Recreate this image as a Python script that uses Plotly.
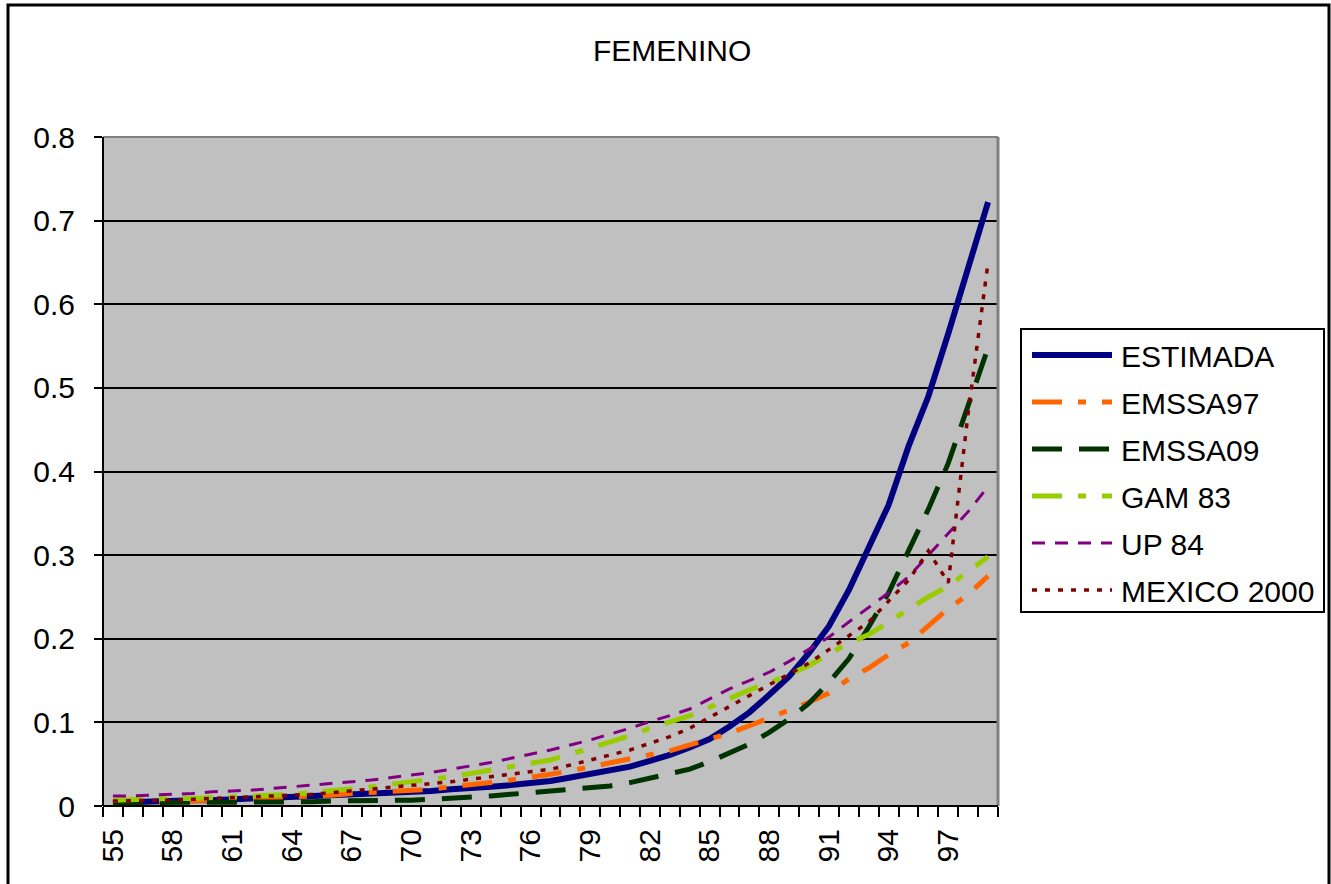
import plotly.graph_objects as go

# Ages (category axis) and mortality rates per table
ages = list(range(55, 100))

estimada = [0.004, 0.005, 0.005, 0.006, 0.007, 0.007, 0.008, 0.009, 0.009, 0.010,
            0.011, 0.012, 0.013, 0.014, 0.015, 0.017, 0.018, 0.020, 0.021, 0.023,
            0.025, 0.027, 0.030, 0.034, 0.038, 0.042, 0.047, 0.054, 0.061, 0.070,
            0.080, 0.095, 0.112, 0.133, 0.155, 0.183, 0.215, 0.258, 0.310, 0.360,
            0.430, 0.490, 0.565, 0.645, 0.722]
emssa97 = [0.004, 0.005, 0.005, 0.006, 0.006, 0.007, 0.007, 0.008, 0.009, 0.010,
           0.011, 0.013, 0.015, 0.016, 0.018, 0.019, 0.020, 0.023, 0.025, 0.028,
           0.031, 0.034, 0.038, 0.042, 0.047, 0.051, 0.056, 0.062, 0.066, 0.073,
           0.080, 0.087, 0.096, 0.105, 0.115, 0.124, 0.135, 0.152, 0.165, 0.181,
           0.195, 0.215, 0.236, 0.253, 0.275]
emssa09 = [0.004, 0.004, 0.004, 0.004, 0.005, 0.005, 0.005, 0.005, 0.005, 0.005,
           0.005, 0.006, 0.006, 0.006, 0.006, 0.007, 0.008, 0.009, 0.011, 0.012,
           0.014, 0.016, 0.017, 0.020, 0.022, 0.024, 0.028, 0.033, 0.038, 0.044,
           0.053, 0.063, 0.074, 0.088, 0.104, 0.123, 0.148, 0.176, 0.214, 0.255,
           0.305, 0.355, 0.410, 0.480, 0.548]
gam83 = [0.007, 0.008, 0.008, 0.009, 0.009, 0.010, 0.010, 0.011, 0.013, 0.014,
         0.016, 0.018, 0.021, 0.023, 0.026, 0.029, 0.031, 0.035, 0.039, 0.043,
         0.047, 0.051, 0.055, 0.062, 0.069, 0.076, 0.084, 0.093, 0.101, 0.108,
         0.118, 0.129, 0.139, 0.147, 0.157, 0.168, 0.182, 0.195, 0.205, 0.220,
         0.235, 0.250, 0.263, 0.280, 0.298]
up84 = [0.012, 0.012, 0.013, 0.014, 0.015, 0.017, 0.018, 0.019, 0.021, 0.023,
        0.025, 0.027, 0.029, 0.031, 0.034, 0.037, 0.040, 0.044, 0.048, 0.052,
        0.057, 0.062, 0.067, 0.073, 0.079, 0.086, 0.093, 0.101, 0.108, 0.116,
        0.128, 0.140, 0.150, 0.160, 0.173, 0.188, 0.202, 0.220, 0.237, 0.255,
        0.274, 0.300, 0.325, 0.352, 0.382]
mexico2000 = [0.006, 0.006, 0.007, 0.007, 0.008, 0.009, 0.009, 0.010, 0.011, 0.012,
              0.014, 0.016, 0.018, 0.020, 0.022, 0.025, 0.027, 0.029, 0.032, 0.035,
              0.037, 0.041, 0.044, 0.049, 0.055, 0.061, 0.067, 0.075, 0.083, 0.093,
              0.106, 0.119, 0.132, 0.144, 0.157, 0.171, 0.187, 0.204, 0.220, 0.245,
              0.270, 0.305, 0.267, 0.470, 0.650]

series_names = ["ESTIMADA", "EMSSA97", "EMSSA09", "GAM 83", "UP 84", "MEXICO 2000"]
series_values = [estimada, emssa97, emssa09, gam83, up84, mexico2000]

# Line styles
colors = ["#000080", "#FF6600", "#003300", "#99CC00", "#800080", "#800000"]
widths = [6, 5, 5, 5, 3, 3.5]
dashes = ["solid", "30px,16px,8px,16px", "30px,17px", "30px,16px,8px,16px",
          "13px,10px", "5px,8px"]

age_labels = ages[::3]

FONT = "Liberation Sans, Arial, sans-serif"
FS = 30
W, H = 1331, 884
PL, PR, PT, PB = 103, 998, 137, 806  # plot-area edges in pixels


def px_x(p):
    return (p - PL) / (PR - PL)


def px_y(p):
    return (PB - p) / (PB - PT)


fig = go.Figure()
for name, vals, c, w, d in zip(series_names, series_values, colors, widths, dashes):
    fig.add_trace(go.Scatter(x=ages, y=vals, name=name, mode="lines",
                             line=dict(color=c, width=w, dash=d),
                             showlegend=False))

shapes = []
# outer chart frame
shapes.append(dict(type="rect", xref="paper", yref="paper",
                   x0=px_x(8), x1=px_x(1329), y0=px_y(895), y1=px_y(5),
                   line=dict(color="black", width=3), fillcolor="rgba(0,0,0,0)",
                   layer="above"))
# plot-area frame: grey top/right, black axes left/bottom
shapes.append(dict(type="line", xref="paper", yref="paper", x0=0, x1=1, y0=1, y1=1,
                   line=dict(color="#808080", width=2), layer="above"))
shapes.append(dict(type="line", xref="paper", yref="paper", x0=1, x1=1, y0=0, y1=1,
                   line=dict(color="#808080", width=3), layer="above"))
shapes.append(dict(type="line", xref="paper", yref="paper", x0=0, x1=0, y0=0, y1=1,
                   line=dict(color="black", width=2), layer="above"))
shapes.append(dict(type="line", xref="paper", yref="paper", x0=0, x1=1, y0=0, y1=0,
                   line=dict(color="black", width=2), layer="above"))

# legend box
shapes.append(dict(type="rect", xref="paper", yref="paper",
                   x0=px_x(1021), x1=px_x(1324), y0=px_y(612), y1=px_y(329),
                   line=dict(color="black", width=2), fillcolor="white", layer="above"))
annotations = []
for i, (name, c, w, d) in enumerate(zip(series_names, colors, widths, dashes)):
    yc = 355 + 47 * i
    shapes.append(dict(type="line", xref="paper", yref="paper",
                       x0=px_x(1032), x1=px_x(1112), y0=px_y(yc), y1=px_y(yc),
                       line=dict(color=c, width=w, dash=d), layer="above"))
    annotations.append(dict(text=name, xref="paper", yref="paper",
                            x=px_x(1119), y=px_y(yc + 1), xanchor="left",
                            yanchor="middle", showarrow=False,
                            font=dict(family=FONT, size=FS, color="black")))

fig.update_layout(
    width=W, height=H,
    margin=dict(l=PL, r=W - PR, t=PT, b=H - PB, pad=0),
    paper_bgcolor="white",
    plot_bgcolor="#C0C0C0",
    font=dict(family=FONT, size=FS, color="black"),
    title=dict(text="FEMENINO", xref="container", yref="container",
               x=0.505, y=1 - 50 / H, xanchor="center", yanchor="middle",
               font=dict(family=FONT, size=FS, color="black")),
    shapes=shapes,
    annotations=annotations,
    showlegend=False,
)

fig.update_xaxes(
    range=[54.5, 99.5],
    tickmode="array", tickvals=age_labels, ticktext=[str(a) for a in age_labels],
    tickangle=-90, ticks="outside", ticklen=10, tickcolor="rgba(0,0,0,0)",
    tickfont=dict(family=FONT, size=FS, color="black"),
    minor=dict(tickmode="linear", tick0=54.5, dtick=1, ticks="outside",
               ticklen=10, tickwidth=2, tickcolor="black", showgrid=False),
    showgrid=False, zeroline=False, showline=False,
)
fig.update_yaxes(
    range=[0, 0.8], tickmode="linear", tick0=0, dtick=0.1,
    ticks="outside", ticklen=8, tickwidth=2, tickcolor="black",
    ticklabelstandoff=13,
    tickfont=dict(family=FONT, size=FS, color="black"),
    showgrid=True, gridcolor="black", gridwidth=2,
    zeroline=False, showline=False,
)

fig.write_html("out.html")
